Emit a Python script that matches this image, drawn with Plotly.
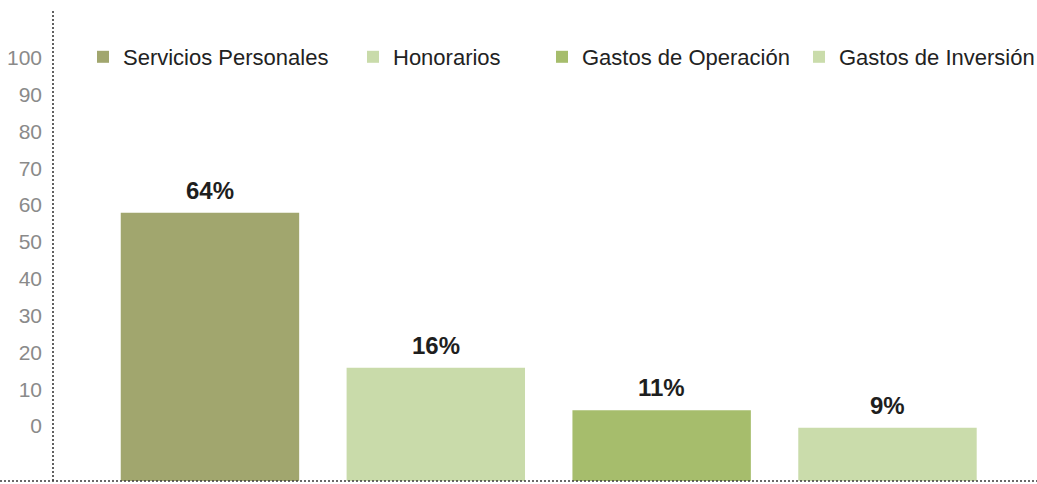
import plotly.graph_objects as go

# ---- data ----
categories = ["Servicios Personales", "Honorarios", "Gastos de Operación", "Gastos de Inversión"]
pct_labels = ["64%", "16%", "11%", "9%"]
# bar tops as read against the printed 0-100 axis (bars start below the printed 0)
bar_tops = [57.9, 15.8, 4.3, -0.5]
axis_floor = -14.95
axis_ceiling = 113.0
tick_values = [0, 10, 20, 30, 40, 50, 60, 70, 80, 90, 100]
colors = ["#a1a66e", "#c9dbaa", "#a6bd6c", "#cadcab"]

# legend entry start positions (px from left of the image)
legend_starts = [83, 353, 542, 799]

W, H = 1037, 484
ML, MR, MT, MB = 53, 0, 10, 3
PW, PH = W - ML - MR, H - MT - MB

fig = go.Figure()
for i, (cat, top, lab, col) in enumerate(zip(categories, bar_tops, pct_labels, colors)):
    key = "legend" if i == 0 else f"legend{i+1}"
    fig.add_trace(go.Bar(
        x=[cat], y=[top - axis_floor], base=axis_floor,
        name=cat, marker=dict(color=col, line=dict(width=0)),
        width=0.79, legend=key, hoverinfo="skip",
    ))
    fig.add_annotation(
        x=cat, y=top, xref="x", yref="y", text=f"<b>{lab}</b>",
        showarrow=False, yanchor="bottom", xanchor="center", yshift=7,
        font=dict(family="Liberation Sans, Arial", size=24, color="#1e1e1e"),
    )
    fig.layout[key] = dict(
        x=(legend_starts[i] - ML) / PW, xref="paper", xanchor="left",
        y=1 - (57 - MT) / PH, yref="paper", yanchor="middle",
        orientation="h", bgcolor="rgba(0,0,0,0)", borderwidth=0,
        font=dict(family="Liberation Sans, Arial", size=22, color="#222222"),
    )

fig.update_layout(
    width=W, height=H,
    margin=dict(l=ML, r=MR, t=MT, b=MB, autoexpand=False),
    paper_bgcolor="white", plot_bgcolor="white",
    barmode="overlay", showlegend=True,
    xaxis=dict(type="category", categoryorder="array", categoryarray=categories,
               range=[-0.695, 3.662], showticklabels=False, showgrid=False,
               zeroline=False, showline=False, ticks=""),
    yaxis=dict(range=[axis_floor, axis_ceiling], tickvals=tick_values,
               showgrid=False, zeroline=False, showline=False, ticks="",
               ticklabelstandoff=10,
               tickfont=dict(family="Liberation Sans Narrow, Liberation Sans, Arial",
                             size=21, color="#8a8a8a")),
    shapes=[
        dict(type="line", xref="paper", yref="paper", x0=0, x1=0, y0=0, y1=1,
             line=dict(color="#3a3a3a", width=1.6, dash="2px,2px")),
        dict(type="line", xref="paper", yref="paper", x0=-ML / PW, x1=1, y0=0, y1=0,
             line=dict(color="#3a3a3a", width=1.6, dash="2px,2px")),
    ],
)

fig.write_html("out.html", config={"displayModeBar": False},
               post_script="document.body.style.margin='0';")
